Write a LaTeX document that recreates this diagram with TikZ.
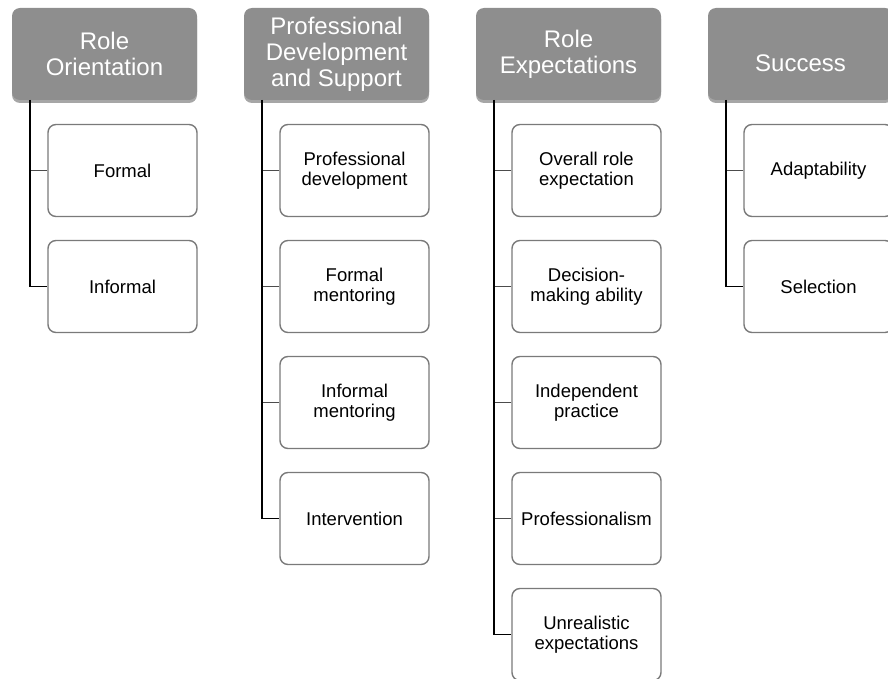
\documentclass[tikz,border=0pt]{standalone}
\usepackage{fontspec}
\setmainfont{Liberation Sans}
\usetikzlibrary{shadows}
\definecolor{headgray}{HTML}{8E8E8E}
\definecolor{edgegray}{HTML}{7A7A7A}
\begin{document}
\begin{tikzpicture}[x=1pt,y=-1pt,
  headfont/.style={text=white, font=\fontsize{24}{26}\selectfont},
  headbox/.style={headfont, draw=none, fill=headgray, rounded corners=8pt,
    minimum width=185pt, minimum height=92pt, align=center, inner sep=0pt,
    drop shadow={shadow xshift=0pt, shadow yshift=-3pt, opacity=0.35, fill=black}},
  itembox/.style={draw=edgegray, line width=1.4pt, fill=white, rounded corners=8pt,
    minimum width=149pt, minimum height=92pt, align=center,
    font=\fontsize{18.5}{20}\selectfont, inner sep=0pt},
  trunk/.style={draw=black, line width=1.6pt},
  stub/.style={draw=black!70, line width=1.3pt}]
\useasboundingbox (0,0) rectangle (888,679);
\clip (0,0) rectangle (888,679);

% column headers
\node[headbox] (h1) at (104.5,54) {Role\\Orientation};
\node[headbox] (h2) at (336.5,54) {Professional\\Development\\and Support};
\node[headbox] (h3) at (568.5,54) {Role\\Expectations};
\node[headbox] (h4) at (800.5,54) {};
\node[headfont] (h4text) at ([yshift=-9pt]h4.center) {Success};

% trunk start points under each header
\coordinate (t1) at (30,100);
\coordinate (t2) at (262,100);
\coordinate (t3) at (494,100);
\coordinate (t4) at (726,100);

% column 1
\node[itembox] (a1) at (122.5,170.5) {Formal};
\node[itembox] (a2) at (122.5,286.5) {Informal};
% column 2
\node[itembox] (b1) at (354.5,170.5) {Professional\\development};
\node[itembox] (b2) at (354.5,286.5) {Formal\\mentoring};
\node[itembox] (b3) at (354.5,402.5) {Informal\\mentoring};
\node[itembox] (b4) at (354.5,518.5) {Intervention};
% column 3
\node[itembox] (c1) at (586.5,170.5) {Overall role\\expectation};
\node[itembox] (c2) at (586.5,286.5) {Decision-\\making ability};
\node[itembox] (c3) at (586.5,402.5) {Independent\\practice};
\node[itembox] (c4) at (586.5,518.5) {Professionalism};
\node[itembox] (c5) at (586.5,634.5) {Unrealistic\\expectations};
% column 4
\node[itembox] (d1) at (818.5,170.5) {Adaptability};
\node[itembox] (d2) at (818.5,286.5) {Selection};

% side branches
\foreach \n/\t in {a1/t1, b1/t2, b2/t2, b3/t2, c1/t3, c2/t3, c3/t3, c4/t3, d1/t4}
  \draw[stub] (\n.west) -- (\n.west -| \t);

% trunks ending in the last item of each column
\draw[trunk] (t1) |- (a2.west);
\draw[trunk] (t2) |- (b4.west);
\draw[trunk] (t3) |- (c5.west);
\draw[trunk] (t4) |- (d2.west);
\end{tikzpicture}
\end{document}
